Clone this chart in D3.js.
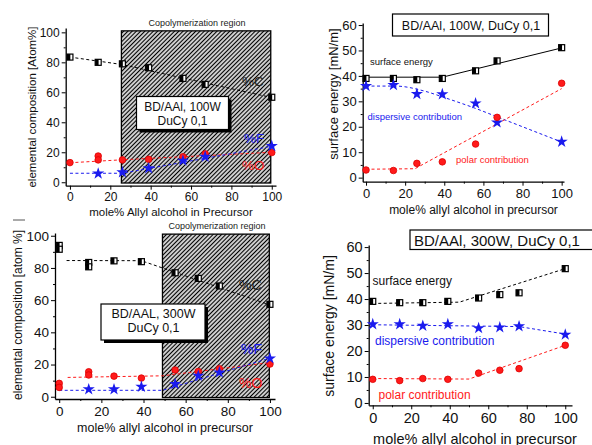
<!DOCTYPE html>
<html>
<head>
<meta charset="utf-8">
<script src="https://cdn.jsdelivr.net/npm/d3@7"></script>
<style>
body { margin: 0; background: #fff; }
text { font-family: "Liberation Sans", Arial, sans-serif; }
</style>
</head>
<body>
<svg id="chart" width="592" height="445"></svg>
<script>
'use strict';

// tick values
const molTicks = [0, 20, 40, 60, 80, 100];
const molMinor = [10, 30, 50, 70, 90];
const compTicks = [0, 20, 40, 60, 80, 100];
const compMinor = [10, 30, 50, 70, 90];
const energyTicks = [0, 10, 20, 30, 40, 50, 60];
const energyMinor = [5, 15, 25, 35, 45, 55];

// top left: composition, BD/AAl 100W
const carbonAX = [0, 14, 26, 39, 56, 67, 100];
const carbonA = [83.5, 80, 79, 76.4, 69.3, 65.3, 56.7];
const oxygenAX = [0, 14, 14, 26, 39, 56, 67, 100];
const oxygenA = [13.1, 17.5, 14.9, 14.9, 15.3, 17, 18.9, 19.8];
const fluorineAX = [14, 26, 39, 56, 67, 100];
const fluorineA = [5.8, 6.7, 9.3, 14.4, 17, 24.2];
const fitCarbonAX = [0, 26, 56, 100];
const fitCarbonA = [83.5, 78.5, 69.5, 56.5];
const fitOxygenAX = [0, 26, 100];
const fitOxygenA = [13, 15, 20];
const fitFluorineAX = [0, 26, 100];
const fitFluorineA = [6, 6, 24];

// top right: surface energy, BD/AAl 100W
const energyBX = [0, 14, 26, 39, 56, 67, 100];
const totalB = [39, 39, 38.5, 39, 42, 45.9, 51.1];
const dispersiveB = [36, 36.4, 32.9, 32.8, 29.2, 21.7, 14.1];
const polarB = [3, 2.8, 5.6, 6.2, 13.2, 23.7, 37.1];
const fitTotalBX = [0, 39, 100];
const fitTotalB = [39.5, 39.5, 51];
const fitDispersiveBX = [0, 15, 30, 40, 55, 70, 100];
const fitDispersiveB = [36, 36, 34, 31.5, 27.5, 23, 14];
const fitPolarBX = [0, 25, 100];
const fitPolarB = [3.3, 3.5, 35];

// bottom left: composition, BD/AAL 300W
const carbonCX = [0, 0, 14, 14, 26, 39, 55, 66, 76, 100];
const carbonC = [94, 91.6, 83.4, 80.7, 84.4, 83.9, 77, 73.5, 68.8, 57.4];
const oxygenCX = [0, 0, 14, 14, 26, 39, 55, 66, 76, 100];
const oxygenC = [8.3, 5.8, 15.5, 13.5, 12.8, 11.6, 16.6, 15.7, 17.4, 20.3];
const fluorineCX = [14, 26, 39, 55, 66, 76, 100];
const fluorineC = [4.6, 4.6, 6.2, 7.9, 13, 15.1, 23.8];
const fitCarbonCX = [3.5, 39, 100];
const fitCarbonC = [84.6, 84.5, 57];
const fitOxygenCX = [4, 49, 100];
const fitOxygenC = [12, 13, 21.2];
const fitFluorineCX = [0, 49, 100];
const fitFluorineC = [4, 4, 24];

// bottom right: surface energy, BD/AAl 300W
const energyDX = [0, 14, 26, 39, 55, 66, 76, 100];
const totalD = [39.1, 38.6, 38.6, 39.1, 40.4, 41.7, 42.4, 51.7];
const dispersiveD = [30.3, 30.3, 29.7, 30.3, 28.8, 29.1, 29.5, 26.3];
const polarD = [9.1, 8.6, 9.4, 9.1, 11.5, 12.6, 13.2, 22.2];
const fitTotalDX = [0, 45, 100];
const fitTotalD = [38.3, 38.8, 51.7];
const fitDispersiveDX = [0, 76, 100];
const fitDispersiveD = [30.1, 29.4, 26.5];
const fitPolarDX = [0, 50, 100];
const fitPolarD = [9.4, 9.2, 22.2];

const BLACK = '#000', RED = '#ff1a1a', BLUE = '#1a1aee';

const svg = d3.select('#chart');
svg.append('rect').attr('width', 592).attr('height', 445).attr('fill', '#fff');

const pat = svg.append('defs').append('pattern')
    .attr('id', 'hatch')
    .attr('patternUnits', 'userSpaceOnUse')
    .attr('width', 3).attr('height', 3)
    .attr('patternTransform', 'rotate(45)');
pat.append('rect').attr('width', 3).attr('height', 3).attr('fill', '#fff');
pat.append('line').attr('x1', 1.5).attr('y1', 0).attr('x2', 1.5).attr('y2', 3)
    .attr('stroke', '#000').attr('stroke-width', 1.4);

function zip(xs, ys) {
    return xs.map((v, i) => [v, ys[i]]);
}

function drawMarker(g, kind, cx, cy) {
    if (kind === 'square') {
        g.append('rect').attr('x', cx - 3).attr('y', cy - 3).attr('width', 6).attr('height', 6)
            .attr('fill', '#fff').attr('stroke', BLACK).attr('stroke-width', 1.2);
        g.append('rect').attr('x', cx - 3).attr('y', cy - 3).attr('width', 3.4).attr('height', 6)
            .attr('fill', BLACK);
    } else if (kind === 'circle') {
        g.append('circle').attr('cx', cx).attr('cy', cy).attr('r', 3.3)
            .attr('fill', RED).attr('stroke', '#d00').attr('stroke-width', 0.8);
    } else {
        g.append('path').attr('d', d3.symbol(d3.symbolStar, 46)())
            .attr('transform', `translate(${cx},${cy})`).attr('fill', BLUE);
    }
}

function drawPanel(p) {
    const g = svg.append('g');
    const x = d3.scaleLinear().domain(p.xDomain).range(p.xRange);
    const y = d3.scaleLinear().domain(p.yDomain).range(p.yRange);

    if (p.region) {
        const [r0, r1, rb, rt] = p.region;
        g.append('rect')
            .attr('x', x(r0)).attr('y', y(rt))
            .attr('width', x(r1) - x(r0)).attr('height', y(rb) - y(rt))
            .attr('fill', 'url(#hatch)').attr('stroke', '#000').attr('stroke-width', 1.3);
        g.append('text').attr('x', p.regionLabel[0]).attr('y', p.regionLabel[1])
            .attr('text-anchor', 'middle').attr('font-size', 9).attr('fill', '#222')
            .text('Copolymerization region');
    }

    // axes
    const axL = g.append('g').attr('transform', `translate(${p.xRange[0]},0)`)
        .call(d3.axisLeft(y).tickValues(p.yTicks).tickSize(4).tickSizeOuter(0).tickPadding(2));
    g.append('g').attr('transform', `translate(${p.xRange[0]},0)`)
        .call(d3.axisLeft(y).tickValues(p.yMinor).tickSize(2).tickFormat(''))
        .select('.domain').remove();
    const axB = g.append('g').attr('transform', `translate(0,${p.yRange[0]})`)
        .call(d3.axisBottom(x).tickValues(molTicks).tickSize(4).tickSizeOuter(0).tickPadding(3));
    g.append('g').attr('transform', `translate(0,${p.yRange[0]})`)
        .call(d3.axisBottom(x).tickValues(molMinor).tickSize(2).tickFormat(''))
        .select('.domain').remove();
    [axL, axB].forEach(a => {
        a.selectAll('text').attr('font-size', p.tickFont).attr('fill', '#111')
            .attr('font-family', '"Liberation Sans", Arial, sans-serif');
        a.select('.domain').attr('stroke-width', 1.3);
    });
    g.selectAll('.tick line').attr('stroke-width', 1);

    // fit lines
    p.series.forEach(s => {
        g.append('path')
            .datum(zip(s.fitX, s.fitY))
            .attr('fill', 'none')
            .attr('stroke', s.color)
            .attr('stroke-width', 1)
            .attr('stroke-dasharray', s.solid ? null : '3,2.5')
            .attr('d', d3.line().x(d => x(d[0])).y(d => y(d[1]))
                .curve(s.smooth ? d3.curveMonotoneX : d3.curveLinear));
    });
    p.series.forEach(s => {
        zip(s.x, s.y).forEach(d => drawMarker(g, s.kind, x(d[0]), y(d[1])));
    });

    // legend box
    const b = p.box;
    if (b.shadow) {
        g.append('rect').attr('x', b.x + 3).attr('y', b.y + 3).attr('width', b.w).attr('height', b.h)
            .attr('fill', '#000');
    }
    g.append('rect').attr('x', b.x).attr('y', b.y).attr('width', b.w).attr('height', b.h)
        .attr('fill', '#fff').attr('stroke', '#000').attr('stroke-width', 1.2);
    b.lines.forEach((t, i) => {
        g.append('text').attr('x', b.tx).attr('y', b.ty[i])
            .attr('text-anchor', b.anchor).attr('font-size', b.font).attr('fill', '#111').text(t);
    });

    p.labels.forEach(l => {
        g.append('text').attr('x', l.x).attr('y', l.y).attr('font-size', l.size)
            .attr('fill', l.color).text(l.text);
    });

    g.append('text')
        .attr('transform', `translate(${p.yTitle[0]},${p.yTitle[1]}) rotate(-90)`)
        .attr('text-anchor', 'middle').attr('font-size', p.yTitle[2]).attr('fill', '#111')
        .text(p.yTitle[3]);
    g.append('text')
        .attr('x', p.xTitle[0]).attr('y', p.xTitle[1])
        .attr('text-anchor', 'middle').attr('font-size', p.xTitle[2]).attr('fill', '#111')
        .text(p.xTitle[3]);
}

drawPanel({
    xDomain: [-2.1, 102.1], xRange: [65.7, 276],
    yDomain: [-2.3, 102.9], yRange: [185.7, 28],
    yTicks: compTicks, yMinor: compMinor, tickFont: 12,
    region: [25.5, 99.5, -0.5, 101], regionLabel: [197, 26],
    series: [
        { kind: 'square', color: BLACK, x: carbonAX, y: carbonA, fitX: fitCarbonAX, fitY: fitCarbonA },
        { kind: 'circle', color: RED, x: oxygenAX, y: oxygenA, fitX: fitOxygenAX, fitY: fitOxygenA },
        { kind: 'star', color: BLUE, x: fluorineAX, y: fluorineA, fitX: fitFluorineAX, fitY: fitFluorineA }
    ],
    box: { x: 136.5, y: 96.5, w: 92, h: 33, shadow: true, lines: ['BD/AAl, 100W', 'DuCy 0,1'],
        tx: 182.5, ty: [110.5, 124.5], anchor: 'middle', font: 12 },
    labels: [
        { text: '%C', x: 242, y: 86, size: 13.5, color: '#222' },
        { text: '%F', x: 244, y: 143, size: 13.5, color: BLUE },
        { text: '%O', x: 242, y: 170, size: 13.5, color: RED }
    ],
    yTitle: [36, 107, 11.5, 'elemental composition [Atom%]'],
    xTitle: [171, 216, 11.5, 'mole% Allyl alcohol in Precursor']
});

drawPanel({
    xDomain: [-1.7, 101.2], xRange: [362.7, 564],
    yDomain: [-1.6, 60.8], yRange: [181.7, 23],
    yTicks: energyTicks, yMinor: energyMinor, tickFont: 13,
    series: [
        { kind: 'square', color: BLACK, solid: true, x: energyBX, y: totalB, fitX: fitTotalBX, fitY: fitTotalB },
        { kind: 'star', color: BLUE, smooth: true, x: energyBX, y: dispersiveB, fitX: fitDispersiveBX, fitY: fitDispersiveB },
        { kind: 'circle', color: RED, x: energyBX, y: polarB, fitX: fitPolarBX, fitY: fitPolarB }
    ],
    box: { x: 392.5, y: 14, w: 156, h: 22, lines: ['BD/AAl, 100W, DuCy 0,1'],
        tx: 471, ty: [30], anchor: 'middle', font: 12.5 },
    labels: [
        { text: 'surface energy', x: 370, y: 65, size: 9.5, color: '#111' },
        { text: 'dispersive contribution', x: 367.5, y: 120, size: 9.5, color: BLUE },
        { text: 'polar contribution', x: 456, y: 163, size: 9.5, color: RED }
    ],
    yTitle: [338, 94, 13, 'surface energy [mN/m]'],
    xTitle: [473.5, 214, 12, 'mole% allyl alcohol in precursor']
});

drawPanel({
    xDomain: [-2, 102.4], xRange: [55, 275],
    yDomain: [-1.4, 101.7], yRange: [399, 233],
    yTicks: compTicks, yMinor: compMinor, tickFont: 13.5,
    region: [49, 99.7, -0.5, 101], regionLabel: [217, 229],
    series: [
        { kind: 'square', color: BLACK, x: carbonCX, y: carbonC, fitX: fitCarbonCX, fitY: fitCarbonC },
        { kind: 'circle', color: RED, x: oxygenCX, y: oxygenC, fitX: fitOxygenCX, fitY: fitOxygenC },
        { kind: 'star', color: BLUE, x: fluorineCX, y: fluorineC, fitX: fitFluorineCX, fitY: fitFluorineC }
    ],
    box: { x: 101, y: 304, w: 104, h: 36, shadow: true, lines: ['BD/AAL, 300W', 'DuCy 0,1'],
        tx: 153.5, ty: [317.5, 331.5], anchor: 'middle', font: 12.5 },
    labels: [
        { text: '%C', x: 239, y: 290, size: 14, color: '#222' },
        { text: '%F', x: 241, y: 354, size: 14, color: BLUE },
        { text: '%O', x: 239, y: 388, size: 14, color: RED }
    ],
    yTitle: [22, 315, 12, 'elemental composition [atom %]'],
    xTitle: [165, 431.5, 12.5, 'mole% allyl alcohol in precursor']
});

drawPanel({
    xDomain: [-2.1, 103.5], xRange: [368.7, 572],
    yDomain: [-0.9, 60.8], yRange: [405.3, 245],
    yTicks: energyTicks, yMinor: energyMinor, tickFont: 14.5,
    series: [
        { kind: 'square', color: BLACK, x: energyDX, y: totalD, fitX: fitTotalDX, fitY: fitTotalD },
        { kind: 'star', color: BLUE, x: energyDX, y: dispersiveD, fitX: fitDispersiveDX, fitY: fitDispersiveD },
        { kind: 'circle', color: RED, x: energyDX, y: polarD, fitX: fitPolarDX, fitY: fitPolarD }
    ],
    box: { x: 410, y: 230, w: 200, h: 19.5, lines: ['BD/AAl, 300W, DuCy 0,1'],
        tx: 414, ty: [245.5], anchor: 'start', font: 15 },
    labels: [
        { text: 'surface energy', x: 372.5, y: 285, size: 12, color: '#111' },
        { text: 'dispersive contribution', x: 375, y: 345, size: 12, color: BLUE },
        { text: 'polar contribution', x: 378.5, y: 399, size: 12, color: RED }
    ],
    yTitle: [334, 326, 14, 'surface energy [mN/m]'],
    xTitle: [475, 443.5, 14.5, 'mole% allyl alcohol in precursor']
});

// stray scan mark under the first panel
svg.append('line').attr('x1', 13).attr('y1', 220).attr('x2', 25).attr('y2', 220)
    .attr('stroke', '#555').attr('stroke-width', 1);
</script>
</body>
</html>
